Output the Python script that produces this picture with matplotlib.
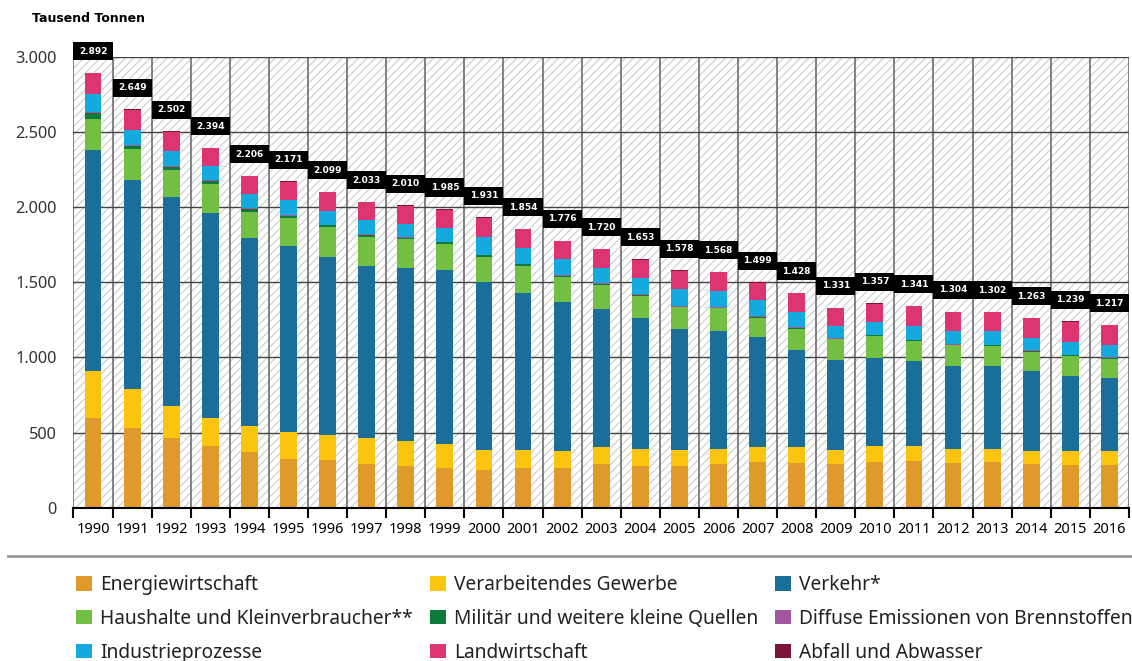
import numpy as np
import matplotlib
matplotlib.use('Agg')
import matplotlib.pyplot as plt
from matplotlib.patches import Rectangle, Patch
from matplotlib.lines import Line2D
from matplotlib.ticker import FuncFormatter

plt.rcParams['font.family'] = ['Noto Sans', 'DejaVu Sans']
plt.rcParams['hatch.linewidth'] = 0.8

# Daten (Tausend Tonnen)
years = list(range(1990, 2017))
totals = [2892, 2649, 2502, 2394, 2206, 2171, 2099, 2033, 2010, 1985, 1931, 1854, 1776,
          1720, 1653, 1578, 1568, 1499, 1428, 1331, 1357, 1341, 1304, 1302, 1263, 1239, 1217]

energie = [598, 532, 461, 410, 368, 326, 317, 288, 279, 262, 254, 266, 266,
           288, 277, 276, 288, 301, 299, 288, 304, 310, 299, 304, 288, 284, 284]
gewerbe = [311, 255, 215, 188, 175, 175, 166, 173, 166, 161, 129, 117, 113,
           113, 111, 105, 102, 105, 102, 95, 106, 100, 91, 84, 91, 93, 93]
verkehr = [1469, 1389, 1390, 1363, 1248, 1239, 1186, 1148, 1151, 1157, 1120, 1047, 991,
           918, 871, 807, 787, 726, 647, 599, 583, 565, 554, 554, 532, 501, 483]
haushalte = [206, 207, 179, 189, 177, 184, 195, 193, 188, 173, 166, 179, 164,
             159, 148, 144, 148, 131, 142, 137, 148, 133, 135, 133, 126, 130, 131]
militaer = [42, 22, 22, 20, 18, 18, 13, 13, 11, 11, 9, 9, 9,
            9, 9, 5, 5, 5, 5, 5, 5, 5, 5, 5, 5, 5, 5]
diffus = [7, 6, 6, 6, 6, 6, 5, 7, 7, 5, 4, 4, 4,
          5, 5, 4, 4, 4, 4, 4, 4, 4, 4, 4, 4, 4, 4]
industrie = [115, 100, 100, 96, 93, 98, 93, 91, 84, 88, 115, 102, 104,
             104, 108, 111, 108, 111, 103, 80, 84, 91, 87, 88, 84, 82, 80]
landwirtschaft = [141, 135, 126, 119, 118, 122, 121, 117, 121, 125, 131, 127, 122,
                  121, 121, 123, 123, 113, 123, 120, 123, 130, 126, 127, 130, 137, 134]
abfall = [3] * 27

series = [
    ('Energiewirtschaft', energie, '#E09A2B'),
    ('Verarbeitendes Gewerbe', gewerbe, '#FAC40F'),
    ('Verkehr*', verkehr, '#1A6E99'),
    ('Haushalte und Kleinverbraucher**', haushalte, '#72BF44'),
    ('Militär und weitere kleine Quellen', militaer, '#0E7A3A'),
    ('Diffuse Emissionen von Brennstoffen', diffus, '#A357A0'),
    ('Industrieprozesse', industrie, '#14A9DF'),
    ('Landwirtschaft', landwirtschaft, '#DC3571'),
    ('Abfall und Abwasser', abfall, '#7D1538'),
]

fig = plt.figure(figsize=(11.32, 6.61), dpi=100)
ax = fig.add_axes([0.0649, 0.2319, 0.9324, 0.6826])

x = np.arange(len(years))

# schraffierter Hintergrund
ax.add_patch(Rectangle((0, 0), 1, 1, transform=ax.transAxes, facecolor='white',
                       edgecolor='#cccccc', hatch='////', lw=0, zorder=0))

# gestapelte Balken
bottom = np.zeros(len(years))
handles = {}
for name, vals, col in series:
    vals = np.array(vals)
    ax.bar(x, vals, bottom=bottom, width=0.43, color=col, zorder=3)
    handles[name] = Patch(facecolor=col)
    bottom += vals

# schwarze Summen-Kästchen
tot = np.array(totals)
ax.bar(x, 120, bottom=tot + 84, width=1.0, color='black', zorder=5, clip_on=False)
for xi, t in zip(x, totals):
    ax.text(xi, t + 144, f'{t:,}'.replace(',', '.'), color='white', fontsize=6.5,
            family='DejaVu Sans', fontweight='bold', ha='center', va='center',
            zorder=6, clip_on=False)

ax.set_xlim(-0.5, len(years) - 0.5)
ax.set_ylim(0, 3000)
ax.set_yticks(np.arange(0, 3001, 500))
ax.yaxis.set_major_formatter(FuncFormatter(lambda v, p: f'{int(v):,}'.replace(',', '.')))
ax.set_xticks(x)
ax.set_xticklabels(years)
ax.set_xticks(np.arange(-0.5, len(years), 1), minor=True)

ax.tick_params(axis='x', which='major', length=0, pad=10, labelsize=10.5)
ax.tick_params(axis='x', which='minor', length=7, width=1.5, color='black', direction='out')
ax.tick_params(axis='y', length=0, pad=12, labelsize=11.8, labelcolor='#333333')

ax.grid(axis='y', which='major', color='#444444', lw=1, zorder=1)
ax.grid(axis='x', which='minor', color='#777777', lw=1.3, zorder=1)
ax.set_axisbelow(True)

for s in ['top', 'right', 'left']:
    ax.spines[s].set_visible(False)
ax.spines['bottom'].set_linewidth(1.5)
ax.spines['bottom'].set_zorder(4)

fig.text(32 / 1132, 1 - 19 / 661, 'Tausend Tonnen', fontsize=9, family='DejaVu Sans',
         fontweight='bold', va='center', ha='left')

# Trennlinie über der Legende
fig.add_artist(Line2D([8 / 1132, 1.0], [1 - 556 / 661] * 2, color='#9a9a9a', lw=2))

# Legende (spaltenweise gefüllt)
order = [0, 3, 6, 1, 4, 7, 2, 5, 8]
fig.legend([handles[series[i][0]] for i in order], [series[i][0] for i in order],
           ncol=3, loc='upper left', bbox_to_anchor=(76 / 1132, 1 - 575 / 661),
           frameon=False, fontsize=13.8, handlelength=0.83, handleheight=0.8,
           handletextpad=0.42, columnspacing=0.9, labelspacing=0.72, borderpad=0,
           borderaxespad=0, labelcolor='#222222')

fig.savefig('out.png', dpi=100)
